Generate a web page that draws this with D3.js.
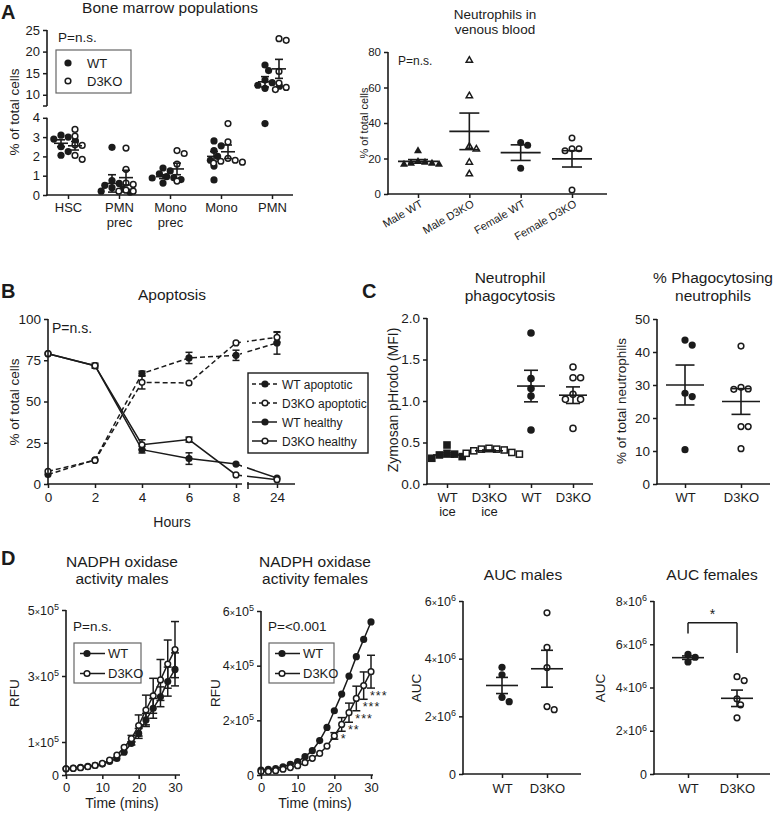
<!DOCTYPE html>
<html><head><meta charset="utf-8">
<script src="https://cdn.jsdelivr.net/npm/d3@7"></script>
<style>body{margin:0;background:#fff}svg{display:block}</style>
</head><body>
<script>
// ================= DATA =================
// A left: bone marrow populations (% of total cells)
const bmCats = ["HSC","PMN|prec","Mono|prec","Mono","PMN"];
const bmWT = [[3.1,3.0,2.9,2.5,2.25,2.06,2.8],[2.47,0.75,0.6,0.5,0.38,0.3,0.2,0.15],[1.4,1.25,1.1,0.95,0.9,0.88,0.8,0.62],[2.8,2.55,2.3,2.0,1.8,1.5,0.78],[16.9,15.6,13.4,12.8,12.2,12.0,11.5,3.7]];
const bmKO = [[3.4,3.05,2.6,2.57,2.05,1.85],[2.43,1.33,0.62,0.55,0.25,0.2,0.2],[2.3,2.15,1.6,0.72],[3.7,2.75,1.9,1.8,1.75,1.7,1.65],[23.0,22.6,15.4,12.7,11.7,11.2]];
const bmWTmean = [2.68,0.6,0.95,2.0,13.0], bmWTsem = [0.18,0.45,0.1,0.25,1.2];
const bmKOmean = [2.55,0.9,1.35,2.24,16.0], bmKOsem = [0.22,0.38,0.3,0.35,2.2];
const bmTicksHi = [10,15,20,25], bmTicksLo = [0,1,2,3,4];
const bmLegend = ["WT","D3KO"];

// A right: neutrophils in venous blood
const nvCats = ["Male WT","Male D3KO","Female WT","Female D3KO"];
const nvVals = [[24.5,18.5,18,17.5,17.5,17,17],[75.5,55.5,27,25.5,18,11.5],[29,27.5,14.5],[31.5,25.5,25.5,24.3,2.2]];
const nvMean = [18.4,35.3,23.3,19.8], nvSem = [1.0,10.3,4.4,4.6];
const nvShape = ["triangle","triangle","circle","circle"], nvFilled = [true,false,true,false];
const nvTicks = [0,20,40,60,80];

// B: apoptosis (% of total cells)
const hours = [0,2,4,6,8,24];
const wtApo = [5.7,14.7,66.9,76.4,78,85.5], wtApoErr = [0,0,1.5,3.4,3.1,6.8];
const koApo = [7.7,14.3,61.6,61.2,85.5,88.9], koApoErr = [0,0,4,0,0,3];
const wtHea = [79,71.7,20.8,15.4,12.1,3.6], wtHeaErr = [0,1.5,2,3.5,0,0];
const koHea = [79,71.7,23.8,26.9,5.5,2.6], koHeaErr = [0,0,3,1.5,0,0];
const apoTicks = [0,25,50,75,100], hourTicksA = [0,2,4,6,8], hourTicksB = [24];
const apoLegend = ["WT apoptotic","D3KO apoptotic","WT healthy","D3KO healthy"];

// C left: zymosan pHrodo (MFI)
const phCats = ["WT|ice","D3KO|ice","WT","D3KO"];
const phVals = [[0.47,0.37,0.36,0.35,0.33,0.31],[0.43,0.42,0.42,0.41,0.4,0.38,0.37,0.36],[1.82,1.27,1.15,1.06,0.65],[1.41,1.28,1.28,1.08,1.02,1.02,0.67]];
const phMean = [0.35,0.40,1.18,1.07], phSem = [0.025,0.01,0.19,0.1];
const phShape = ["square","square","circle","circle"], phFilled = [true,false,true,false];
const phTicks = [0,0.5,1,1.5,2];

// C right: % phagocytosing neutrophils
const ppCats = ["WT","D3KO"];
const ppVals = [[43.6,42.1,27.5,26.5,10.4],[41.8,29.3,28.8,28.7,17.4,17.4,10.7]];
const ppMean = [30,25], ppSem = [6.05,3.9];
const ppTicks = [0,10,20,30,40,50];

// D: NADPH oxidase activity (RFU, units of 1e5)
const minutes = [0,2,4,6,8,10,12,14,16,18,20,22,24,26,28,30];
const mWT = [0.19,0.21,0.23,0.26,0.29,0.33,0.41,0.5,0.69,0.96,1.26,1.67,2.02,2.37,2.83,3.2];
const mWTerr = [0,0,0,0,0,0,0,0,0,0.05,0.15,0.2,0.3,0.3,0.44,0.5];
const mKO = [0.19,0.2,0.22,0.25,0.29,0.35,0.45,0.6,0.84,1.1,1.5,1.97,2.4,2.88,3.36,3.8];
const mKOerr = [0,0,0,0,0,0,0,0,0,0.1,0.32,0.45,0.53,0.62,0.73,0.85];
const fWT = [0.18,0.21,0.23,0.3,0.39,0.49,0.67,0.89,1.26,1.74,2.35,2.96,3.62,4.33,4.96,5.6];
const fWTerr = [0,0,0,0,0,0,0,0,0,0,0,0,0,0,0,0];
const fKO = [0.13,0.13,0.16,0.21,0.27,0.34,0.45,0.61,0.79,1.06,1.43,1.85,2.28,2.8,3.27,3.78];
const fKOerr = [0,0,0,0,0,0,0,0,0,0,0.12,0.25,0.35,0.45,0.5,0.6];
const mTicks = [0,1,3,5], fTicks = [0,2,4,6], minTicks = [0,10,20,30];
const starTimes = [22,24,26,28,30], starLabels = ["*","**","***","***","***"];
const dLegend = ["WT","D3KO"];

// D: AUC (units of 1e6)
const aucCats = ["WT","D3KO"];
const aucMVals = [[3.7,3.44,2.66,2.51],[5.59,4.39,3.69,2.34,2.23]];
const aucMMean = [3.07,3.65], aucMSem = [0.28,0.64];
const aucFVals = [[5.53,5.4,5.18],[4.5,4.32,3.47,3.2,2.6]];
const aucFMean = [5.38,3.5], aucFSem = [0.08,0.38];
const aucMTicks = [0,2,4,6], aucFTicks = [0,2,4,6,8];

// ================= DRAWING =================
const W=773,H=815, INK='#1b1b1b';
const FONT='Arial, "Liberation Sans", Helvetica, sans-serif';
const svg=d3.select('body').append('svg').attr('width',W).attr('height',H).style('font-family',FONT);
svg.append('rect').attr('width',W).attr('height',H).attr('fill','#fff');
const defs=svg.append('defs');

function txt(x,y,s,size,anchor='start',o={},parent=svg){
  const t=parent.append('text').attr('x',x).attr('y',y).attr('font-size',size)
    .attr('text-anchor',anchor).attr('fill',INK).text(s);
  if(o.bold) t.attr('font-weight','bold');
  if(o.rot!=null) t.attr('transform',`rotate(${o.rot},${x},${y})`);
  return t;
}
function line(g,x1,y1,x2,y2,w=1.5,col=INK){
  return g.append('line').attr('x1',x1).attr('y1',y1).attr('x2',x2).attr('y2',y2)
    .attr('stroke',col).attr('stroke-width',w);
}
function styleAxis(g,fs){
  g.attr('font-size',fs).attr('font-family',FONT).attr('color',INK);
  g.selectAll('.tick line').attr('stroke-width',1.5);
}
function axisLeft(scale,x,y1,y2,ticks,fmt,fs,pad=3){
  const g=svg.append('g').attr('transform',`translate(${x},0)`)
    .call(d3.axisLeft(scale).tickValues(ticks).tickFormat(fmt).tickSize(4).tickPadding(pad));
  g.select('.domain').remove();
  line(g,0,y1,0,y2,1.6);
  styleAxis(g,fs); return g;
}
function axisBottom(scale,y,x1,x2,ticks,fmt,fs,pad=4){
  const g=svg.append('g').attr('transform',`translate(0,${y})`)
    .call(d3.axisBottom(scale).tickValues(ticks).tickFormat(fmt).tickSize(4).tickPadding(pad));
  g.select('.domain').remove();
  line(g,x1-0.8,0,x2,0,1.6);
  styleAxis(g,fs); return g;
}
function multiline(g,lh){
  g.selectAll('.tick text').each(function(d){
    const parts=String(d).split('|'); const el=d3.select(this);
    el.text(null).attr('dy',null);
    parts.forEach((p,i)=>el.append('tspan').attr('x',0).attr('dy',i===0?'0.71em':lh).text(p));
  });
}
function sciLabels(g,fs,exp){
  g.selectAll('.tick text').each(function(d){
    if(d===0) return;
    const el=d3.select(this); el.text(null);
    el.append('tspan').text(d);
    el.append('tspan').attr('font-size',fs*0.72).text('×');
    el.append('tspan').text('10');
    el.append('tspan').attr('font-size',fs*0.72).attr('dy','-0.5em').text(exp);
  });
}
function marker(g,x,y,shape,filled,s){
  const a=filled?s:s-0.75;
  const fill=filled?INK:'#fff', st=filled?'none':INK;
  let m;
  if(shape==='circle') m=g.append('circle').attr('cx',x).attr('cy',y).attr('r',a);
  else if(shape==='square') m=g.append('rect').attr('x',x-a).attr('y',y-a).attr('width',2*a).attr('height',2*a);
  else m=g.append('path').attr('d',`M${x},${y-a*1.2}L${x+a*1.15},${y+a*0.8}L${x-a*1.15},${y+a*0.8}Z`);
  m.attr('fill',fill).attr('stroke',st).attr('stroke-width',1.5);
}
function swarm(vals,yf,cx,r,gap){
  const placed=[], res=new Array(vals.length);
  const idx=vals.map((v,i)=>i).sort((a,b)=>vals[b]-vals[a]);
  for(const i of idx){
    const y=yf(vals[i]);
    for(let k=0;k<40;k++){
      const off=(k===0?0:(k%2?1:-1)*Math.ceil(k/2))*r;
      const x=cx+off;
      if(placed.every(p=>Math.hypot(p[0]-x,p[1]-y)>=gap)){placed.push([x,y]);res[i]=[x,y];break;}
    }
  }
  return res;
}
function meanSem(g,cx,ym,yl,yh,wm,wc){
  line(g,cx-wm/2,ym,cx+wm/2,ym,1.6);
  line(g,cx,yl,cx,yh,1.6);
  line(g,cx-wc/2,yl,cx+wc/2,yl,1.6);
  line(g,cx-wc/2,yh,cx+wc/2,yh,1.6);
}
function scatterGroup(g,vals,mean,sem,yf,cx,shape,filled,r,wm,wc){
  swarm(vals,yf,cx,r,r*1.85).forEach(p=>marker(g,p[0],p[1],shape,filled,r));
  meanSem(g,cx,yf(mean),yf(mean-sem),yf(mean+sem),wm,wc);
}
function series(g,xs,ys,errs,xS,yS,o){
  const ln=d3.line().x((d,i)=>xS(xs[i])).y(d=>yS(d));
  const p=g.append('path').datum(ys).attr('d',ln).attr('fill','none').attr('stroke',INK).attr('stroke-width',1.5);
  if(o.dash) p.attr('stroke-dasharray',o.dash);
  if(o.clip) p.attr('clip-path',`url(#${o.clip})`);
  ys.forEach((v,i)=>{const e=errs[i]; if(e>0){const cx=xS(xs[i]);
    line(g,cx,yS(v-e),cx,yS(v+e)); line(g,cx-o.cap/2,yS(v-e),cx+o.cap/2,yS(v-e)); line(g,cx-o.cap/2,yS(v+e),cx+o.cap/2,yS(v+e));}});
  ys.forEach((v,i)=>marker(g,xS(xs[i]),yS(v),'circle',o.filled,o.r));
}
function legendBox(x,y,w,h,col,sw){
  const lg=svg.append('g');
  lg.append('rect').attr('x',x).attr('y',y).attr('width',w).attr('height',h).attr('fill','#fff').attr('stroke',col).attr('stroke-width',sw);
  return lg;
}

// ---------- Panel letters ----------
txt(1,19,'A',20,'start',{bold:true});
txt(1,298,'B',20,'start',{bold:true});
txt(362,298,'C',20,'start',{bold:true});
txt(1,565,'D',20,'start',{bold:true});

// ---------- A left ----------
{
  const g=svg.append('g');
  const yLo=d3.scaleLinear().domain([0,4]).range([195,117.8]);
  const yHi=d3.scaleLinear().domain([7.4,25]).range([106,30]);
  const yf=v=>v>5?yHi(v):yLo(v);
  const x=d3.scalePoint().domain(bmCats).range([68,272]);
  const a1=axisLeft(yHi,47,30,106,bmTicksHi,d3.format('d'),13);
  line(a1,-4,yHi(7.4),0,yHi(7.4),1.5);
  axisLeft(yLo,47,117.8,195.8,bmTicksLo,d3.format('d'),13);
  const ax=axisBottom(x,195,47,293,bmCats,d=>d,13,4);
  multiline(ax,'1.1em');
  bmCats.forEach((c,i)=>{
    scatterGroup(g,bmWT[i],bmWTmean[i],bmWTsem[i],yf,x(c)-7,'circle',true,3.6,14,8);
    scatterGroup(g,bmKO[i],bmKOmean[i],bmKOsem[i],yf,x(c)+7,'circle',false,3.6,14,8);
  });
  txt(170,12.5,'Bone marrow populations',15.5,'middle');
  txt(19,112,'% of total cells',13.5,'middle',{rot:-90});
  txt(58,42,'P=n.s.',13.5);
  const lg=legendBox(56,50,75,43,'#666',1.2);
  marker(lg,68,63,'circle',true,3.6); txt(87,67.5,bmLegend[0],13,'start',{},lg);
  marker(lg,68,81,'circle',false,3.6); txt(87,85.5,bmLegend[1],13,'start',{},lg);
}

// ---------- A right ----------
{
  const g=svg.append('g');
  const y=d3.scaleLinear().domain([0,80]).range([194,52]);
  const x=d3.scalePoint().domain(nvCats).range([418,572]);
  axisLeft(y,388,52,194.8,nvTicks,d3.format('d'),11.5);
  const ax=axisBottom(x,194,388,607,nvCats,d=>d,11,4);
  ax.selectAll('.tick text').attr('text-anchor','end').attr('dy',null)
    .attr('transform','translate(5,12) rotate(-30)').attr('y',0).attr('x',0);
  nvCats.forEach((c,i)=>scatterGroup(g,nvVals[i],nvMean[i],nvSem[i],y,x(c),nvShape[i],nvFilled[i],3.5,40,20));
  txt(495,19,'Neutrophils in',13.5,'middle');
  txt(495,34,'venous blood',13.5,'middle');
  txt(368,123,'% of total cells',11,'middle',{rot:-90});
  txt(398,65,'P=n.s.',12);
}

// ---------- B ----------
{
  const g=svg.append('g');
  const xB=d3.scaleLinear().domain([0,8,24]).range([48,236,277]);
  const yB=d3.scaleLinear().domain([0,100]).range([484,319]);
  axisLeft(yB,48,319,484.8,apoTicks,d3.format('d'),13.5);
  const x1=d3.scaleLinear().domain([0,8]).range([48,236]);
  axisBottom(x1,484,48,242,hourTicksA,d3.format('d'),13.5,4);
  const x2=d3.scaleLinear().domain([8,24]).range([236,277]);
  const ax2=axisBottom(x2,484,248,295,hourTicksB,d3.format('d'),13.5,4);
  line(ax2,248,-2,248,5,1.5);
  const cp=defs.append('clipPath').attr('id','bclip');
  cp.append('rect').attr('x',0).attr('y',300).attr('width',242).attr('height',200);
  cp.append('rect').attr('x',247).attr('y',300).attr('width',80).attr('height',200);
  series(g,hours,wtHea,wtHeaErr,xB,yB,{filled:true,r:3.6,cap:7,clip:'bclip'});
  series(g,hours,koHea,koHeaErr,xB,yB,{filled:false,r:3.6,cap:7,clip:'bclip'});
  series(g,hours,wtApo,wtApoErr,xB,yB,{filled:true,r:3.6,cap:7,dash:'5,3',clip:'bclip'});
  series(g,hours,koApo,koApoErr,xB,yB,{filled:false,r:3.6,cap:7,dash:'5,3',clip:'bclip'});
  txt(172,300,'Apoptosis',15.5,'middle');
  txt(19,402,'% of total cells',13.5,'middle',{rot:-90});
  txt(172,527,'Hours',14,'middle');
  txt(52,333,'P=n.s.',14);
  const lg=legendBox(248,373,120,80,INK,1.4);
  const ly=[384,403,422,441], dashes=['4,3','4,3',null,null], fills=[true,false,true,false];
  apoLegend.forEach((s,i)=>{
    const l=line(lg,252,ly[i],277,ly[i],1.5); if(dashes[i]) l.attr('stroke-dasharray',dashes[i]);
    marker(lg,265,ly[i],'circle',fills[i],3.6);
    txt(282,ly[i]+4.5,s,12,'start',{},lg);
  });
}

// ---------- C left ----------
{
  const g=svg.append('g');
  const y=d3.scaleLinear().domain([0,2]).range([484,318]);
  const x=d3.scalePoint().domain(phCats).range([447,573]);
  axisLeft(y,427,318,484.8,phTicks,d3.format('.1f'),13.5);
  const ax=axisBottom(x,484,427,593,phCats,d=>d,13,5);
  multiline(ax,'1.05em');
  phCats.forEach((c,i)=>scatterGroup(g,phVals[i],phMean[i],phSem[i],y,x(c),phShape[i],phFilled[i],3.8,28,14));
  txt(510,283,'Neutrophil',15.5,'middle');
  txt(510,300.5,'phagocytosis',15.5,'middle');
  txt(398,400,'Zymosan pHrodo (MFI)',14,'middle',{rot:-90});
}

// ---------- C right ----------
{
  const g=svg.append('g');
  const y=d3.scaleLinear().domain([0,50]).range([484,319]);
  const x=d3.scalePoint().domain(ppCats).range([685,741]);
  axisLeft(y,657,319,484.8,ppTicks,d3.format('d'),13.5);
  axisBottom(x,484,657,770,ppCats,d=>d,13,5);
  scatterGroup(g,ppVals[0],ppMean[0],ppSem[0],y,x('WT'),'circle',true,3.6,38,19);
  scatterGroup(g,ppVals[1],ppMean[1],ppSem[1],y,x('D3KO'),'circle',false,3.6,38,19);
  txt(713,283,'% Phagocytosing',15.5,'middle');
  txt(713,300.5,'neutrophils',15.5,'middle');
  txt(626,401,'% of total neutrophils',13.5,'middle',{rot:-90});
}

// ---------- D timecourses ----------
function timecourse(o){
  const g=svg.append('g');
  const y=d3.scaleLinear().domain([0,o.ymax]).range([775,o.ytop]);
  const x=d3.scaleLinear().domain([0,30]).range([o.x0,o.x30]);
  const ay=axisLeft(y,o.x0,o.ytop,775.8,o.ticks,d3.format('d'),12.5,3);
  sciLabels(ay,12.5,5);
  axisBottom(x,775,o.x0,o.xend,minTicks,d3.format('d'),13,4);
  series(g,minutes,o.wt,o.wtErr,x,y,{filled:true,r:3.6,cap:8});
  series(g,minutes,o.ko,o.koErr,x,y,{filled:false,r:3.6,cap:8});
  txt(o.tx,567,'NADPH oxidase',15.5,'middle');
  txt(o.tx,584,o.title2,15.5,'middle');
  txt(o.tx,808,'Time (mins)',14,'middle');
  txt(o.ylx,693,'RFU',13.5,'middle',{rot:-90});
  txt(o.px,631,o.p,13.5);
  const lg=legendBox(o.lx,643,o.lw,40,'#666',1.2);
  [[true,653.5],[false,673.5]].forEach((d,i)=>{
    line(lg,o.lx+6,d[1],o.lx+31,d[1],1.5);
    marker(lg,o.lx+13,d[1],'circle',d[0],3.6);
    txt(o.lx+34,d[1]+4.5,dLegend[i],13,'start',{},lg);
  });
  return {g,x,y};
}
timecourse({ymax:5,ytop:610,x0:66,x30:175,xend:180,ticks:mTicks,wt:mWT,wtErr:mWTerr,ko:mKO,koErr:mKOerr,
  tx:122,title2:'activity males',ylx:19,px:73,p:'P=n.s.',lx:74,lw:67});
{
  const t=timecourse({ymax:6,ytop:611,x0:261,x30:371,xend:373,ticks:fTicks,wt:fWT,wtErr:fWTerr,ko:fKO,koErr:fKOerr,
    tx:315,title2:'activity females',ylx:220,px:268,p:'P=<0.001',lx:269,lw:65});
  starTimes.forEach((tm,k)=>{
    const i=minutes.indexOf(tm);
    txt(t.x(tm)-1,t.y(fKO[i]-fKOerr[i])+12,starLabels[k],12.5).attr('letter-spacing',1);
  });
}

// ---------- D AUC ----------
function aucPanel(o){
  const g=svg.append('g');
  const y=d3.scaleLinear().domain([0,o.ymax]).range([774,601]);
  const x=d3.scalePoint().domain(aucCats).range(o.xr);
  const ay=axisLeft(y,o.x0,601,774.8,o.ticks,d3.format('d'),12.5,3);
  sciLabels(ay,12.5,6);
  axisBottom(x,774,o.x0,o.xend,aucCats,d=>d,13,6);
  aucCats.forEach((c,i)=>scatterGroup(g,o.vals[i],o.mean[i],o.sem[i],y,x(c),'circle',i===0,3.6,32,12));
  txt(o.tx,580,o.title,15.5,'middle');
  txt(o.ylx,688,'AUC',13.5,'middle',{rot:-90});
  return {g,x,y};
}
aucPanel({ymax:6,xr:[502,547],x0:463,xend:581,ticks:aucMTicks,vals:aucMVals,mean:aucMMean,sem:aucMSem,tx:523,title:'AUC males',ylx:421});
{
  const a=aucPanel({ymax:8,xr:[688,737],x0:654,xend:770,ticks:aucFTicks,vals:aucFVals,mean:aucFMean,sem:aucFSem,tx:712,title:'AUC females',ylx:605});
  const xl=a.x('WT'), xr=a.x('D3KO'), yt=a.y(7.0);
  line(a.g,xl,a.y(6.5),xl,yt,1.5); line(a.g,xl,yt,xr,yt,1.5); line(a.g,xr,yt,xr,a.y(5.6),1.5);
  txt((xl+xr)/2,yt-4,'*',14,'middle');
}
</script>
</body></html>
